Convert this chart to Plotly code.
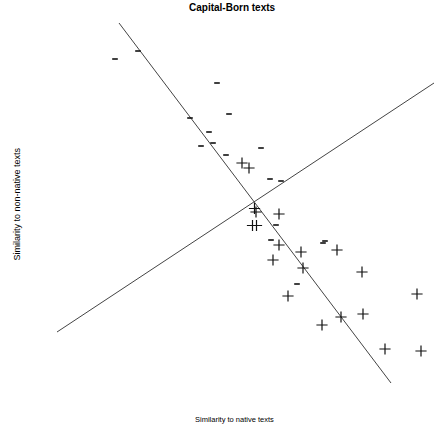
import plotly.graph_objects as go

# Scores (arbitrary similarity units; origin at line crossing)
minus_x = [-1.38, -1.15, -0.36, -0.24, -0.63, -0.44, -0.40, -0.52, -0.27, 0.08, 0.17, 0.28, 0.23, 0.18, 0.72, 0.70, 0.44]
minus_y = [1.44, 1.52, 1.20, 0.89, 0.85, 0.71, 0.60, 0.57, 0.48, 0.55, 0.24, 0.22, -0.22, -0.37, -0.38, -0.40, -0.81]

plus_x = [-0.11, -0.04, 0.015, 0.03, 0.26, -0.005, 0.035, 0.26, 0.48, 0.84, 0.20, 0.50, 1.09, 0.35, 1.64, 0.88, 1.10, 0.69, 1.32, 1.68]
plus_y = [0.40, 0.35, -0.055, -0.09, -0.11, -0.225, -0.225, -0.42, -0.49, -0.47, -0.57, -0.65, -0.69, -0.93, -0.91, -1.14, -1.11, -1.22, -1.46, -1.48]

# Reference lines (endpoints)
line1_x = [-1.34, 1.38]
line1_y = [1.80, -1.80]
line2_x = [-1.96, 1.81]
line2_y = [-1.29, 1.20]

fig = go.Figure()
fig.add_trace(go.Scatter(x=line1_x, y=line1_y, mode="lines",
                         line=dict(color="#444444", width=1), hoverinfo="skip"))
fig.add_trace(go.Scatter(x=line2_x, y=line2_y, mode="lines",
                         line=dict(color="#444444", width=1), hoverinfo="skip"))
fig.add_trace(go.Scatter(x=minus_x, y=minus_y, mode="markers",
                         marker=dict(symbol="line-ew-open", size=4, color="#111111",
                                     line=dict(color="#111111", width=1.6))))
fig.add_trace(go.Scatter(x=plus_x, y=plus_y, mode="markers",
                         marker=dict(symbol="cross-thin-open", size=8, color="#111111",
                                     line=dict(color="#111111", width=1.2))))

fig.update_layout(
    width=434, height=426,
    margin=dict(l=0, r=0, t=0, b=0),
    paper_bgcolor="white", plot_bgcolor="white",
    showlegend=False,
    xaxis=dict(range=[-2.53, 1.81], visible=False, fixedrange=True),
    yaxis=dict(range=[-2.23, 2.03], visible=False, fixedrange=True),
    annotations=[
        dict(text="<b>Capital-Born texts</b>", x=0.535, y=1, xref="paper", yref="paper",
             xanchor="center", yanchor="top", yshift=0, showarrow=False,
             font=dict(family="Liberation Sans, Arial", size=10, color="black")),
        dict(text="Similarity to native texts", x=0.54, y=0, xref="paper", yref="paper",
             xanchor="center", yanchor="bottom", yshift=0, showarrow=False,
             font=dict(family="Liberation Sans, Arial", size=7.5, color="black")),
        dict(text="Similarity to non-native texts", x=0, y=0.52, xref="paper", yref="paper",
             xanchor="center", yanchor="middle", xshift=17, textangle=-90, showarrow=False,
             font=dict(family="Liberation Sans, Arial", size=9, color="black")),
    ],
)
fig.write_html("out.html")
